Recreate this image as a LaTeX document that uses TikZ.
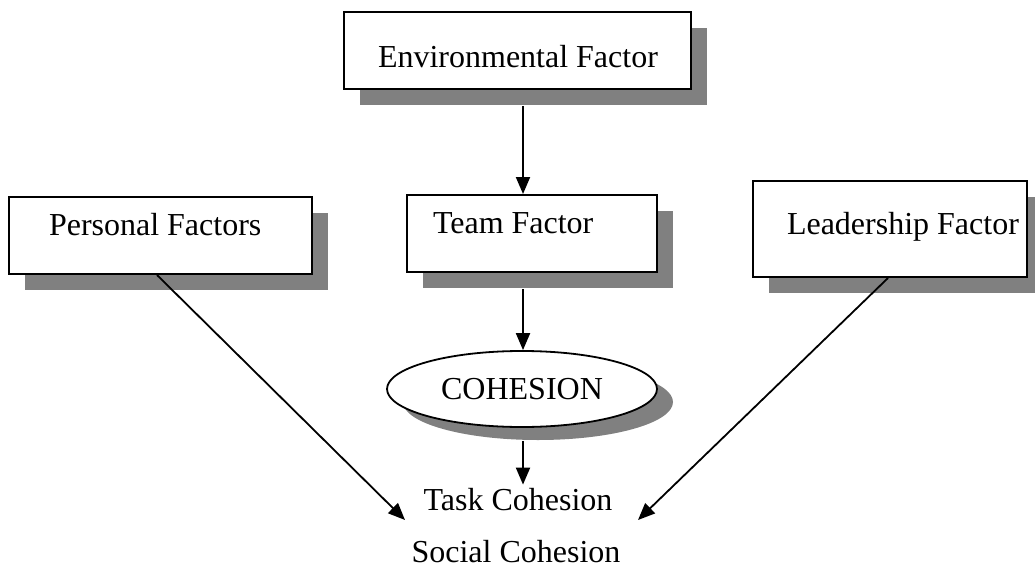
\documentclass[tikz,border=0pt]{standalone}
\usepackage{fontspec}
\setmainfont{Liberation Serif}
\usetikzlibrary{arrows.meta,shapes.geometric,shadows,calc}
\definecolor{shadowgray}{RGB}{128,128,128}
\begin{document}
\begin{tikzpicture}[x=1pt,y=-1pt,
  txt/.style={font=\fontsize{32}{38}\selectfont},
  box/.style={txt, draw, line width=2pt, fill=white, inner sep=0pt,
    drop shadow={shadow xshift=16pt, shadow yshift=-16pt, fill=shadowgray, opacity=1}},
  ell/.style={txt, ellipse, draw, line width=1.8pt, fill=white, inner sep=0pt,
    minimum width=270pt, minimum height=76pt,
    drop shadow={shadow xshift=16pt, shadow yshift=-13pt, fill=shadowgray, opacity=1}},
  lbl/.style={txt, inner sep=3pt},
  arr/.style={line width=2pt, -{Triangle[width=14pt,length=17pt]}},
  darr/.style={line width=1.8pt, -{Triangle[width=14pt,length=17pt]}}]
\useasboundingbox (0,0) rectangle (1035,567);

\node[box, text height=56pt, text depth=21pt] (env) at (517.5,50.5)
  {\makebox[347pt][l]{\hspace{34pt}Environmental Factor}};
\node[box, text height=38pt, text depth=39pt] (pers) at (160.5,235.5)
  {\makebox[303pt][l]{\hspace{40pt}Personal Factors}};
\node[box, text height=38pt, text depth=39pt] (team) at (532,233.5)
  {\makebox[250pt][l]{\hspace{26pt}Team Factor}};
\node[box, text height=53pt, text depth=43pt] (lead) at (890,229)
  {\makebox[274pt][l]{\hspace{34pt}Leadership Factor}};

\node[ell] (coh) at (522,389) {COHESION};

\node[lbl, anchor=base] (task) at (518,510) {Task Cohesion};
\node[lbl, anchor=base] (soc) at (516,562) {Social Cohesion};

\coordinate (ltip) at (405,520);
\coordinate (rtip) at (638,520);

\draw[arr] ([xshift=5.5pt,yshift=-16pt]env.south) -- ([xshift=-9pt]team.north);
\draw[arr] ([xshift=-9pt,yshift=-16pt]team.south) -- ([xshift=1pt]coh.north);
\draw[arr] ([xshift=1pt,yshift=-13pt]coh.south) -- ([xshift=5pt]task.north);
\draw[darr] ([xshift=-3.5pt]pers.south) -- (ltip);
\draw[darr] ([xshift=-2pt]lead.south) -- (rtip);
\end{tikzpicture}
\end{document}
